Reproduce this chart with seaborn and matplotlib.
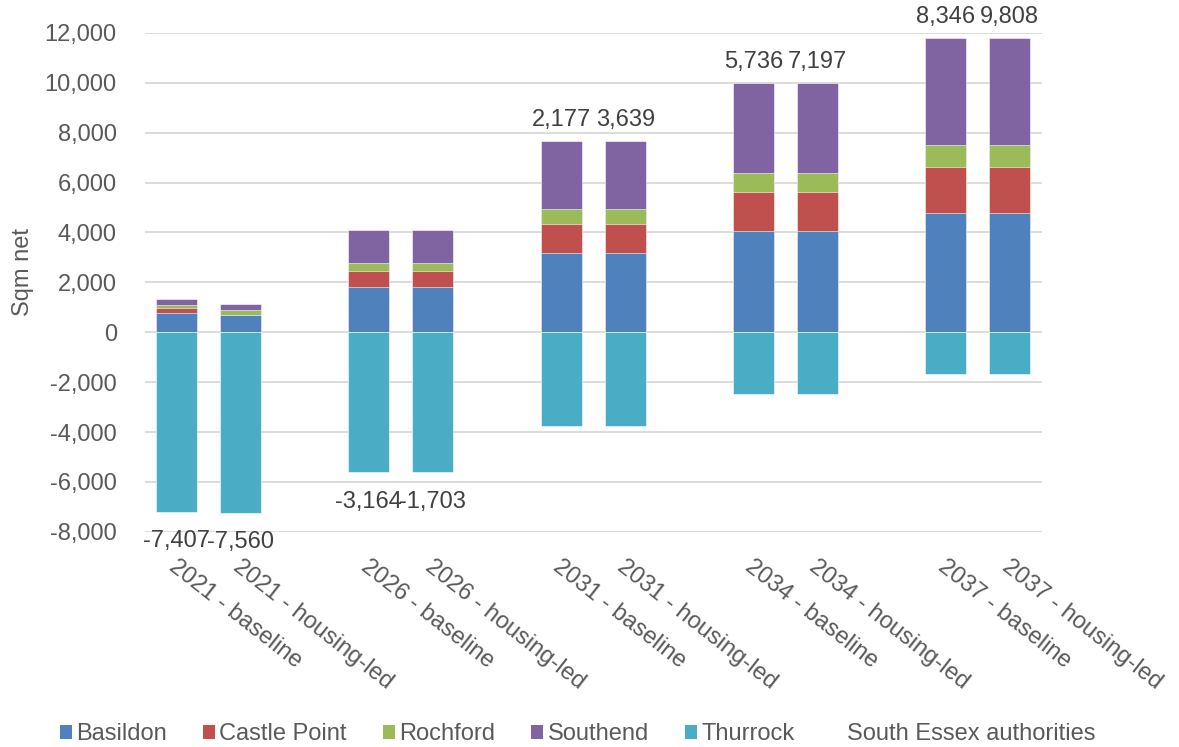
import matplotlib
matplotlib.use("Agg")
import matplotlib.pyplot as plt
from matplotlib.patches import Patch
from matplotlib.ticker import FuncFormatter
from matplotlib.transforms import ScaledTranslation
import seaborn as sns
import pandas as pd
import numpy as np

# ------------------------------------------------------------
# data (sqm net)
# ------------------------------------------------------------
bars = ['2021 - baseline', '2021 - housing-led',
        '2026 - baseline', '2026 - housing-led',
        '2031 - baseline', '2031 - housing-led',
        '2034 - baseline', '2034 - housing-led',
        '2037 - baseline', '2037 - housing-led']
basildon = [760, 680, 1810, 1810, 3160, 3160, 4060, 4060, 4770, 4770]
castle_point = [210, 0, 630, 630, 1190, 1190, 1570, 1570, 1850, 1850]
rochford = [130, 220, 320, 320, 580, 580, 750, 750, 880, 880]
southend = [220, 230, 1340, 1340, 2730, 2730, 3620, 3620, 4310, 4310]
thurrock = [-7200, -7250, -5620, -5620, -3750, -3750, -2490, -2490, -1660, -1660]
south_essex = [-7407, -7560, -3164, -1703, 2177, 3639, 5736, 7197, 8346, 9808]

# empty slots between the year groups
order = []
for i, b in enumerate(bars):
    order.append(b)
    if i % 2 == 1 and i < len(bars) - 1:
        order.append(' ' * (i // 2 + 1))

colors = {'Basildon': '#4F81BD', 'Castle Point': '#C0504D', 'Rochford': '#9BBB59',
          'Southend': '#8064A2', 'Thurrock': '#4BACC6'}

df = pd.DataFrame({'bar': bars, 'Basildon': basildon, 'Castle Point': castle_point,
                   'Rochford': rochford, 'Southend': southend, 'Thurrock': thurrock,
                   'total': south_essex})
# cumulative tops of the positive stack
df['c_bas'] = df['Basildon']
df['c_cp'] = df['c_bas'] + df['Castle Point']
df['c_roc'] = df['c_cp'] + df['Rochford']
df['c_sou'] = df['c_roc'] + df['Southend']

sns.set_theme(style="whitegrid")
plt.rcParams['font.family'] = ['Liberation Sans', 'DejaVu Sans']
txt = '#595959'

fig, ax = plt.subplots(figsize=(11.79, 7.47), dpi=100)
fig.subplots_adjust(left=0.1226, right=0.8836, top=0.956, bottom=0.288)

# paint from the tallest cumulative down so the layers look stacked
for col, name in [('c_sou', 'Southend'), ('c_roc', 'Rochford'),
                  ('c_cp', 'Castle Point'), ('c_bas', 'Basildon'),
                  ('Thurrock', 'Thurrock')]:
    sns.barplot(data=df, x='bar', y=col, order=order, color=colors[name],
                saturation=1, width=0.64, errorbar=None,
                edgecolor='white', linewidth=0.4, ax=ax)

# South Essex totals as labels
for _, r in df.iterrows():
    x = order.index(r['bar'])
    if r['total'] >= 0:
        ax.annotate(f"{r['total']:,.0f}", (x, r['c_sou']), xytext=(0, 7),
                    textcoords='offset points', ha='center', va='bottom',
                    fontsize=17, color='#404040')
    else:
        ax.annotate(f"{r['total']:,.0f}", (x, r['Thurrock']), xytext=(0, -13),
                    textcoords='offset points', ha='center', va='top',
                    fontsize=17, color='#404040')

ax.set_ylim(-8000, 12000)
ax.set_yticks(np.arange(-8000, 12001, 2000))
ax.yaxis.set_major_formatter(FuncFormatter(lambda v, p: f"{v:,.0f}"))
ax.set_xlim(-0.5, len(order) - 0.5)
ax.set_xlabel('')
ax.set_ylabel('Sqm net', fontsize=17, color=txt, labelpad=8)
ax.yaxis.label.set_y(0.521)
ax.set_xticks(range(len(order)))
ax.set_xticklabels([o.strip() for o in order], rotation=-38, ha='left', va='top',
                   rotation_mode='anchor')
ax.tick_params(axis='both', length=0, labelsize=17, labelcolor=txt)
ax.tick_params(axis='x', pad=17)
ax.tick_params(axis='y', pad=20)
shift = ScaledTranslation(1 / 72, 0, fig.dpi_scale_trans)
for lab in ax.get_xticklabels():
    lab.set_transform(lab.get_transform() + shift)
ax.grid(axis='y', color='#d9d9d9', linewidth=1.3)
ax.grid(axis='x', visible=False)
ax.set_axisbelow(True)
for s in ax.spines.values():
    s.set_visible(False)

handles = [Patch(facecolor=colors[n], edgecolor='none') for n in colors]
handles.append(Patch(facecolor='none', edgecolor='none'))
labels = list(colors) + ['South Essex authorities']
fig.legend(handles, labels, loc='center', bbox_to_anchor=(0.49, 0.017), ncol=6,
           frameon=False, fontsize=17, handlelength=0.5, handleheight=0.5,
           handletextpad=0.2, columnspacing=1.52, labelcolor=txt)

plt.savefig('out.png', dpi=100)
